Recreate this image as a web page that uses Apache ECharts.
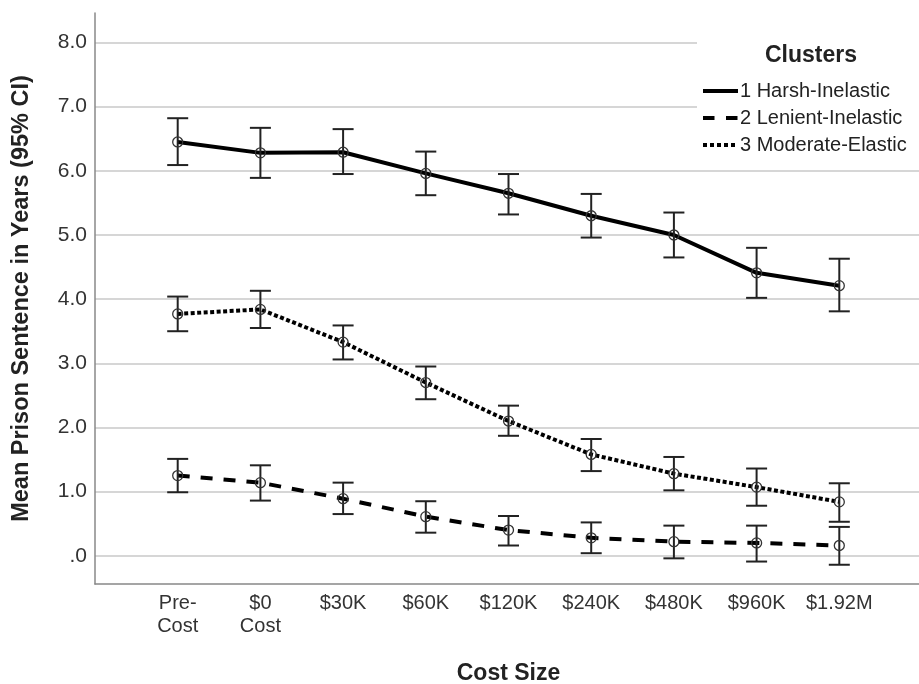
<!DOCTYPE html>
<html>
<head>
<meta charset="utf-8">
<script src="https://cdn.jsdelivr.net/npm/echarts@6/dist/echarts.min.js"></script>
<style>
  html, body { margin: 0; padding: 0; background: #fff; }
  #chart { width: 919px; height: 684px; }
</style>
</head>
<body>
<div id="chart"></div>
<script>
// categories on the x axis
const costSizes = ['Pre-\nCost', '$0\nCost', '$30K', '$60K', '$120K', '$240K', '$480K', '$960K', '$1.92M'];
const yTicks = [0, 1, 2, 3, 4, 5, 6, 7, 8];

// cluster means and 95% CI bounds
const harshMean = [6.45, 6.28, 6.29, 5.96, 5.65, 5.30, 5.00, 4.41, 4.21];
const harshLow  = [6.09, 5.89, 5.95, 5.62, 5.32, 4.96, 4.65, 4.02, 3.81];
const harshHigh = [6.82, 6.67, 6.65, 6.30, 5.95, 5.64, 5.35, 4.80, 4.63];

const lenientMean = [1.25, 1.14, 0.89, 0.61, 0.40, 0.28, 0.22, 0.20, 0.16];
const lenientLow  = [0.99, 0.86, 0.65, 0.36, 0.16, 0.04, -0.04, -0.09, -0.14];
const lenientHigh = [1.51, 1.41, 1.14, 0.85, 0.62, 0.52, 0.47, 0.47, 0.45];

const moderateMean = [3.77, 3.84, 3.33, 2.70, 2.10, 1.58, 1.28, 1.07, 0.84];
const moderateLow  = [3.50, 3.55, 3.06, 2.44, 1.87, 1.32, 1.02, 0.78, 0.53];
const moderateHigh = [4.04, 4.13, 3.59, 2.95, 2.34, 1.82, 1.54, 1.36, 1.13];

const clusterNames = ['1 Harsh-Inelastic', '2 Lenient-Inelastic', '3 Moderate-Elastic'];
const clusterDash = ['solid', [12, 11], [4, 2.5]];
const legendDash = ['solid', [11.5, 11.5], [4, 3]];

const FONT = 'Liberation Sans, Arial, sans-serif';
const INK = '#222';

const chart = echarts.init(document.getElementById('chart'));

const toLine = (means) => means.map((v, i) => [i, v]);
const toCI = (means, lows, highs) => means.map((v, i) => [i, lows[i], highs[i], v]);

// error bar + open circle for each point
const renderCI = (params, api) => {
    const x = api.value(0);
    const lo = api.coord([x, api.value(1)]);
    const hi = api.coord([x, api.value(2)]);
    const mid = api.coord([x, api.value(3)]);
    const cap = 10.5;
    const st = { stroke: INK, lineWidth: 2 };
    return {
        type: 'group',
        children: [
            { type: 'line', shape: { x1: lo[0], y1: lo[1], x2: hi[0], y2: hi[1] }, style: st },
            { type: 'line', shape: { x1: lo[0] - cap, y1: lo[1], x2: lo[0] + cap, y2: lo[1] }, style: st },
            { type: 'line', shape: { x1: hi[0] - cap, y1: hi[1], x2: hi[0] + cap, y2: hi[1] }, style: st },
            { type: 'circle', shape: { cx: mid[0], cy: mid[1], r: 5 }, style: { fill: 'none', stroke: '#333', lineWidth: 1.3 } }
        ]
    };
};

const lineSeries = (idx, means) => ({
    name: clusterNames[idx],
    type: 'line',
    data: toLine(means),
    symbol: 'none',
    itemStyle: { color: '#000' },
    lineStyle: { color: '#000', width: 4, type: clusterDash[idx], cap: 'butt' },
    z: 3
});

const ciSeries = (means, lows, highs) => ({
    type: 'custom',
    renderItem: renderCI,
    data: toCI(means, lows, highs),
    encode: { x: 0, y: [1, 2] },
    clip: false,
    silent: true,
    z: 4
});

const option = {
    animation: false,
    backgroundColor: '#fff',
    textStyle: { fontFamily: FONT },
    grid: { left: 95, right: -3, top: 13, bottom: 100, containLabel: false, outerBoundsMode: 'none' },
    title: {
        text: 'Clusters',
        left: 806,
        top: 39,
        textAlign: 'center',
        textStyle: { fontFamily: FONT, fontSize: 23, fontWeight: 'bold', color: INK }
    },
    legend: {
        data: clusterNames.map((n, i) => ({
            name: n,
            lineStyle: { width: 4, type: legendDash[i], color: '#000', cap: 'butt' }
        })),
        orient: 'vertical',
        left: 697,
        top: 30,
        padding: [51, 30, 8, 4],
        backgroundColor: '#fff',
        itemWidth: 35,
        itemHeight: 14,
        itemGap: 7,
        itemStyle: { opacity: 0 },
        textStyle: { fontFamily: FONT, fontSize: 20, lineHeight: 20, color: INK, padding: [0, 0, 0, -3] }
    },
    xAxis: {
        type: 'value',
        min: -1,
        max: 9,
        interval: 1,
        name: 'Cost Size',
        nameLocation: 'middle',
        nameGap: 78,
        nameTextStyle: { fontFamily: FONT, fontSize: 23, fontWeight: 'bold', color: INK },
        axisLine: { show: true, onZero: false, lineStyle: { color: '#888', width: 1.5 } },
        axisTick: { show: false },
        splitLine: { show: false },
        axisLabel: {
            fontFamily: FONT,
            fontSize: 20,
            color: '#333',
            margin: 8,
            lineHeight: 23,
            formatter: (v) => (v >= 0 && v < costSizes.length ? costSizes[v] : '')
        }
    },
    yAxis: {
        type: 'value',
        min: -0.44,
        max: 8.46,
        name: 'Mean Prison Sentence in Years (95% CI)',
        nameLocation: 'middle',
        nameGap: 61,
        nameTextStyle: { fontFamily: FONT, fontSize: 23.5, fontWeight: 'bold', color: INK },
        axisLine: { show: true, onZero: false, lineStyle: { color: '#888', width: 1.5 } },
        axisTick: { show: false, customValues: yTicks },
        splitLine: { show: true, lineStyle: { color: '#c8c8c8', width: 1.5 } },
        axisLabel: {
            customValues: yTicks,
            fontFamily: FONT,
            fontSize: 21,
            color: '#333',
            margin: 8,
            formatter: (v) => (v === 0 ? '.0' : v.toFixed(1))
        }
    },
    series: [
        lineSeries(0, harshMean),
        lineSeries(1, lenientMean),
        lineSeries(2, moderateMean),
        ciSeries(harshMean, harshLow, harshHigh),
        ciSeries(lenientMean, lenientLow, lenientHigh),
        ciSeries(moderateMean, moderateLow, moderateHigh)
    ]
};

chart.setOption(option);
</script>
</body>
</html>
